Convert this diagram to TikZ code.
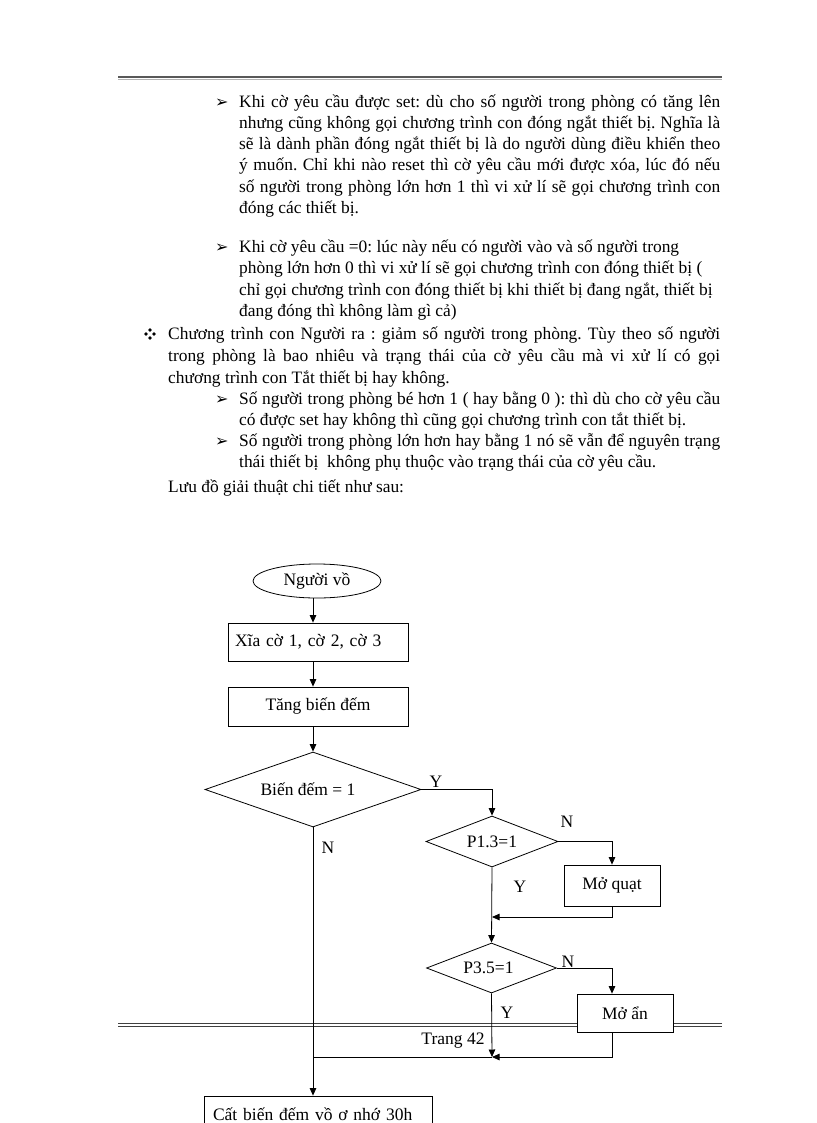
\documentclass[tikz,border=0pt]{standalone}
\usepackage{fontspec}
\setmainfont{Liberation Serif}
\newfontfamily\dejavu{DejaVu Sans}
\usetikzlibrary{shapes.geometric,arrows.meta}
\frenchspacing
\newcommand\jl[5]{\node[bodytext] (#1) at (#2,#3) {\makebox[#4pt][s]{#5}};}
\newcommand\rl[4]{\node[bodytext] (#1) at (#2,#3) {#4};}
\newcommand\arrbul[3]{\node[bul] (#1) at (#2,#3) {➢};}
\begin{document}
\begin{tikzpicture}[x=1pt,y=-1pt,
  bodytext/.style={anchor=base west,inner sep=0pt,font=\fontsize{17.4}{19}\selectfont},
  bul/.style={anchor=base west,inner sep=0pt,font=\dejavu\fontsize{16}{17}\selectfont},
  fc/.style={font=\fontsize{17.5}{19}\selectfont,inner sep=0pt},
  box/.style={fc,draw,line width=0.8pt,fill=white,rectangle},
  dec/.style={fc,draw,line width=0.8pt,diamond},
  conn/.style={line width=0.8pt},
  arr/.style={conn,-{Triangle[length=7.5pt,width=6.5pt]}},
  lab/.style={fc,anchor=base}]
\useasboundingbox (0,0) rectangle (816,1123);
\clip (0,0) rectangle (816,1123);
\fill[white] (0,0) rectangle (816,1123);
% top rule
\draw[line width=1.3pt,gray!70!black] (118,77) -- (722,77);
\draw[line width=1.3pt,gray!60] (118,79.3) -- (722,79.3);
% bullet 1
\arrbul{b1m}{215}{108}
\jl{p1a}{239}{108}{481}{Khi cờ yêu cầu được set: dù cho số người trong phòng có tăng lên}
\jl{p1b}{239}{129}{481}{nhưng cũng không gọi chương trình con đóng ngắt thiết bị. Nghĩa là}
\jl{p1c}{239}{150}{481}{sẽ là dành phần đóng ngắt thiết bị là do người dùng điều khiển theo}
\jl{p1d}{239}{171}{481}{ý muốn. Chỉ khi nào reset thì cờ yêu cầu mới được xóa, lúc đó nếu}
\jl{p1e}{239}{193}{481}{số người trong phòng lớn hơn 1 thì vi xử lí sẽ gọi chương trình con}
\rl{p1f}{239}{214}{đóng các thiết bị.}
% bullet 2
\arrbul{b2m}{215}{252}
\rl{p2a}{239}{252}{Khi cờ yêu cầu =0: lúc này nếu có người vào và số người trong}
\rl{p2b}{239}{273}{phòng lớn hơn 0 thì vi xử lí sẽ gọi chương trình con đóng thiết bị (}
\rl{p2c}{239}{295}{chỉ gọi chương trình con đóng thiết bị khi thiết bị đang ngắt, thiết bị}
\rl{p2d}{239}{316}{đang đóng thì không làm gì cả)}
% four-dot bullet
\foreach \dx/\dy in {0/-4,0/4,-4/0,4/0}
  \fill (150+\dx,334+\dy) ++(0,-1.8) -- ++(1.8,1.8) -- ++(-1.8,1.8) -- ++(-1.8,-1.8) -- cycle;
\jl{p3a}{168}{339}{552}{Chương trình con Người ra : giảm số người trong phòng. Tùy theo số người}
\jl{p3b}{168}{361}{552}{trong phòng là bao nhiêu và trạng thái của cờ yêu cầu mà vi xử lí có gọi}
\rl{p3c}{168}{383}{chương trình con Tắt thiết bị hay không.}
% sub bullets
\arrbul{b3m}{215}{404}
\jl{p4a}{239}{404}{481}{Số người trong phòng bé hơn 1 ( hay bằng 0 ): thì dù cho cờ yêu cầu}
\rl{p4b}{239}{425}{có được set hay không thì cũng gọi chương trình con tắt thiết bị.}
\arrbul{b4m}{215}{446}
\jl{p5a}{239}{446}{481}{Số người trong phòng lớn hơn hay bằng 1 nó sẽ vẫn để nguyên trạng}
\rl{p5b}{239}{467}{thái thiết bị\ \ không phụ thuộc vào trạng thái của cờ yêu cầu.}
\rl{p6}{168}{492}{Lưu đồ giải thuật chi tiết như sau:}
% bottom rule
\draw[line width=1pt,gray!50!black] (118,1023.5) -- (722,1023.5);
\draw[line width=1pt,gray!50!black] (118,1026.5) -- (722,1026.5);
% column coordinates
\coordinate (colA) at (313,0);
\coordinate (colB) at (612,0);
\coordinate (j1) at (492,917);
\coordinate (j2) at (492,1057);
% flowchart nodes
\node[fc,draw,line width=0.8pt,ellipse,minimum width=128pt,minimum height=34pt] (start) at (317,581) {Người vồ};
\node[box,minimum width=180pt,minimum height=38pt,text width=166pt,align=left] (s1) at (318,642) {Xĩa cờ 1, cờ 2, cờ 3};
\node[box,minimum width=180pt,minimum height=39pt] (s2) at (318,706.5) {Tăng biến đếm};
\node[dec,aspect=2.88,minimum width=216pt,minimum height=75pt] (d1) at (313,789.5) {\hspace*{-10pt}Biến đếm = 1};
\node[dec,aspect=2.6,minimum width=132pt,minimum height=51pt] (d2) at (492,841.5) {P1.3=1};
\node[box,minimum width=96pt,minimum height=41pt] (mq) at (612,885.5) {Mở quạt};
\node[dec,aspect=2.6,minimum width=130pt,minimum height=50pt] (d3) at (491.5,968) {\hspace*{-6pt}P3.5=1};
\node[box,minimum width=96pt,minimum height=38pt] (md) at (625,1013) {Mở ẩn};
\node[box,minimum width=228pt,minimum height=44pt,text width=210pt,align=left] (fin) at (318,1118) {\raisebox{8pt}{Cất biến đếm vồ ơ nhớ 30h}};
% labels
\node[lab] (ly1) at (436,787) {Y};
\node[lab] (ln1) at (328,853) {N};
\node[lab] (ln2) at (567,827) {N};
\node[lab] (ly2) at (520,892) {Y};
\node[lab] (ln3) at (568,967) {N};
\node[lab] (ly3) at (507,1018) {Y};
\node[fc,anchor=base] (pg) at (453,1044) {Trang 42};
% connectors
\draw[arr] (start.south -| colA) -- (s1.north -| colA);
\draw[arr] (s1.south -| colA) -- (s2.north -| colA);
\draw[arr] (s2.south -| colA) -- (d1.north);
\draw[arr] (d1.east) -| (d2.north);
\draw[arr] (d2.east) -| (mq.north);
\draw[arr] (d2.south) -- (d3.north);
\draw[arr] (mq.south) |- (j1);
\draw[arr] (d3.east) -| (md.north -| colB);
\draw[arr] (d3.south) -- (j2);
\draw[arr] (md.south -| colB) |- (j2);
\draw[conn] (j2) -- (j2 -| colA);
\draw[arr] (d1.south) -- (fin.north -| colA);
\end{tikzpicture}
\end{document}
